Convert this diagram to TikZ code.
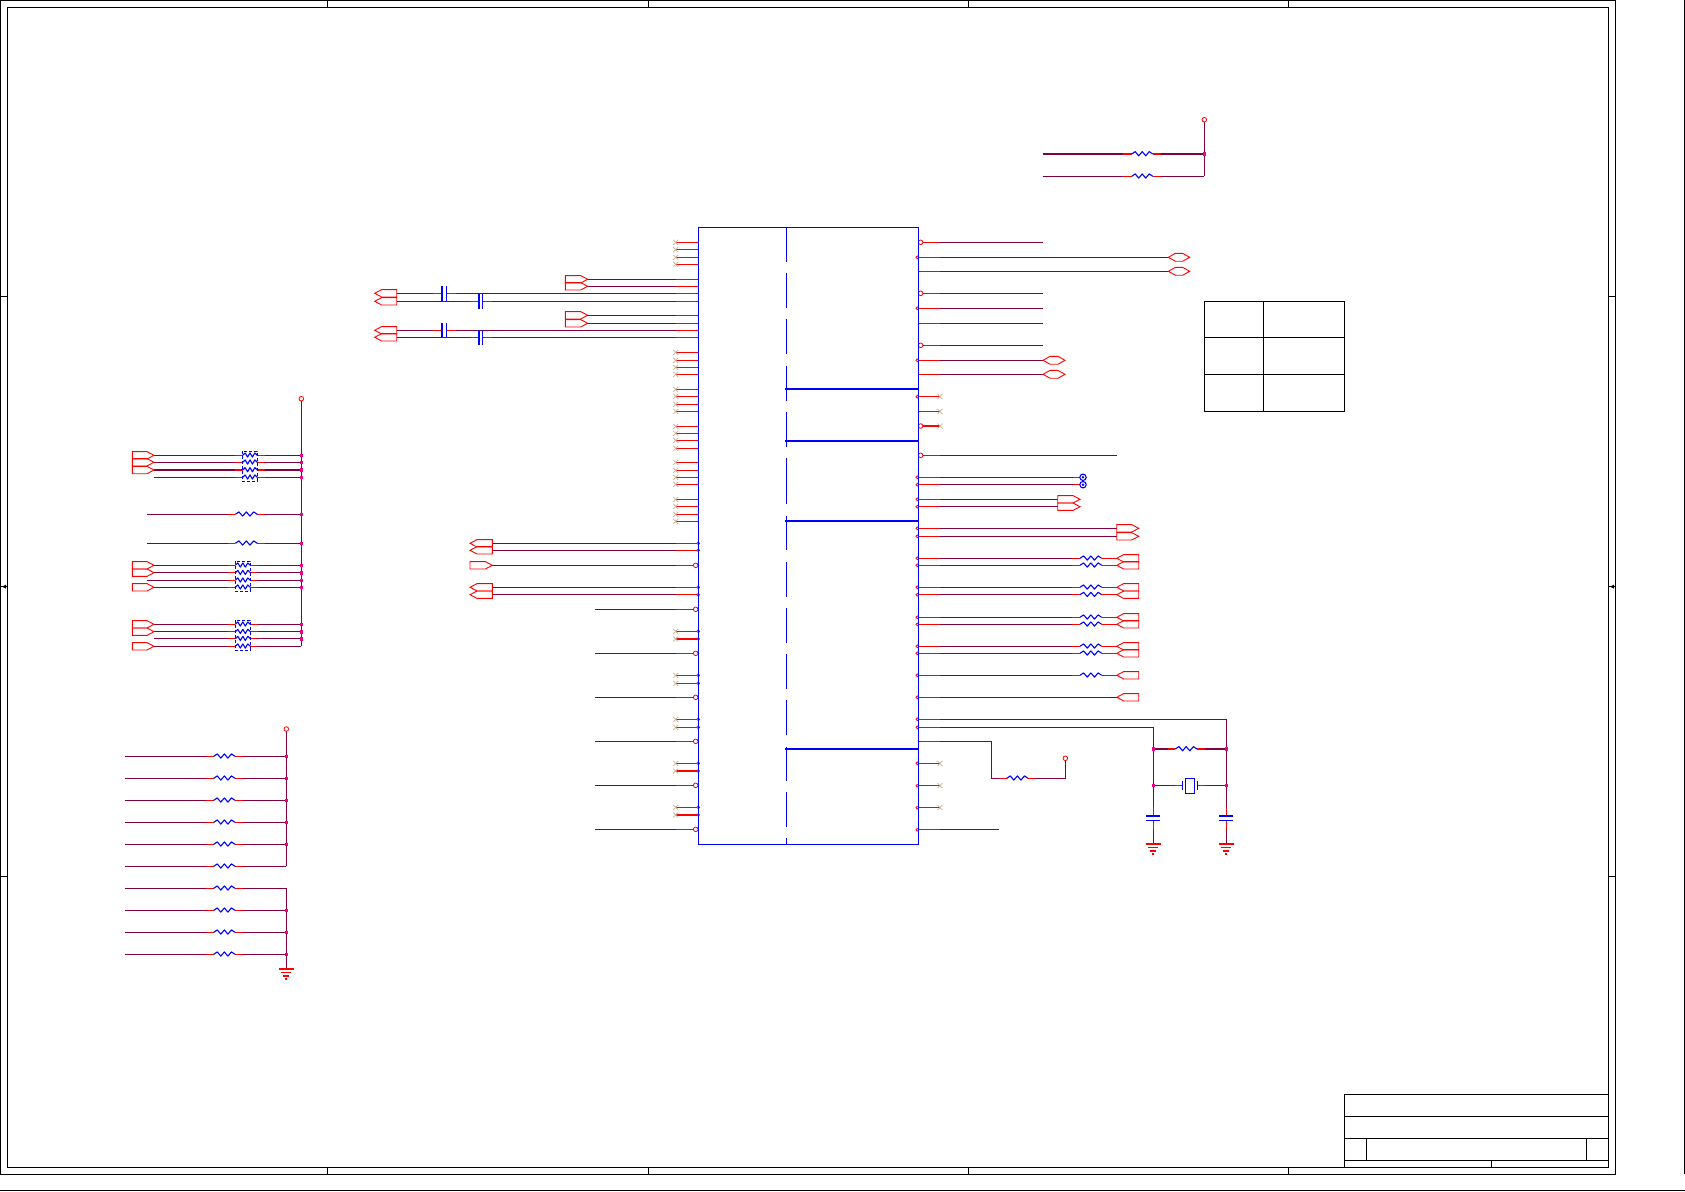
\documentclass[tikz,border=0pt]{standalone}
\definecolor{wirec}{RGB}{128,0,64}
\definecolor{xmark}{RGB}{205,175,145}
\tikzset{
  frameln/.style={draw=black,line width=1pt},
  wireln/.style={draw=wirec,line width=1.1pt},
  pinln/.style={draw=red,line width=1.1pt},
  blueln/.style={draw=blue,line width=1.1pt},
  thickblue/.style={draw=blue,line width=2.2pt},
  portln/.style={draw=red,line width=0.9pt,line join=miter},
  bubble/.style={draw=red,line width=0.8pt,fill=white},
  xln/.style={draw=xmark,line width=0.7pt}
}
\newcommand{\WW}[3]{\draw[wireln] (#1,#3)--(#2,#3);}
\newcommand{\RW}[3]{\draw[pinln] (#1,#3)--(#2,#3);}
\newcommand{\Zig}[3]{\pgfmathsetmacro{\zw}{(#2-#1)/6}
  \draw[draw=blue,line width=1.1pt,line join=round] (#1,#3)--++(\zw,-2.4)--++(\zw,4.2)--++(\zw,-4.2)--++(\zw,4.2)--++(\zw,-4.2)--++(\zw,2.4);}
\newcommand{\XM}[2]{\draw[xln] (#1-2.5,#2-2.5)--(#1+2.5,#2+2.5) (#1-2.5,#2+2.5)--(#1+2.5,#2-2.5);}
\newcommand{\SD}[2]{\draw[red,line width=0.7pt,fill=white] (#1,#2) circle (1.4);}
\newcommand{\BB}[2]{\draw[bubble] (#1,#2) circle (2.3);}
\newcommand{\JJ}[2]{\fill[magenta] (#1-1.8,#2-1.8) rectangle (#1+1.8,#2+1.8);}
\newcommand{\PR}[3]{\draw[portln] (#1,#3-3.7)--(#2-7,#3-3.7)--(#2,#3)--(#2-7,#3+3.7)--(#1,#3+3.7)--cycle;}
\newcommand{\PL}[3]{\draw[portln] (#2,#3-3.7)--(#1+7,#3-3.7)--(#1,#3)--(#1+7,#3+3.7)--(#2,#3+3.7)--cycle;}
\newcommand{\PB}[3]{\draw[portln] (#1,#3)--(#1+7,#3-3.9)--(#2-7,#3-3.9)--(#2,#3)--(#2-7,#3+3.9)--(#1+7,#3+3.9)--cycle;}
\newcommand{\GND}[2]{\draw[pinln] (#1-7.5,#2)--(#1+7.5,#2) (#1-5,#2+3.5)--(#1+5,#2+3.5) (#1-3,#2+7)--(#1+3,#2+7) (#1-1,#2+10)--(#1+1,#2+10);}
\newcommand{\RR}[7]{\WW{#1}{#2}{#7}\WW{#5}{#6}{#7}\RW{#2}{#3}{#7}\RW{#4}{#5}{#7}\Zig{#3}{#4}{#7}}
\begin{document}
\begin{tikzpicture}[x=1pt,y=-1pt]
\useasboundingbox (0,0) rectangle (1685,1191);
% --- drawing frame
\draw[frameln] (0.7,0.7) rectangle (1615.7,1174.3);
\draw[frameln] (7.3,7.3) rectangle (1608.3,1167.3);
\draw[frameln] (1684.3,0)--(1684.3,1174.3);
\draw[draw=black,line width=1.2pt] (0,1190.4)--(1685,1190.4);
\foreach \tx in {327.3,648,968.2,1288.5}{
  \draw[frameln] (\tx,0.7)--(\tx,7.3) (\tx,1167.3)--(\tx,1174.3);}
\foreach \ty in {296.6,586.7,876.9}{
  \draw[frameln] (0.7,\ty)--(7.3,\ty) (1608.3,\ty)--(1615.7,\ty);}
\fill (2,586.7)--(6,584.7)--(6,588.7)--cycle;
\fill (1610,586.7)--(1614,584.7)--(1614,588.7)--cycle;
% --- title block
\draw[frameln] (1344.3,1094.3) rectangle (1608.3,1167.3);
\draw[frameln] (1344.3,1116.3)--(1608.3,1116.3) (1344.3,1138.3)--(1608.3,1138.3) (1344.3,1160.3)--(1608.3,1160.3);
\draw[frameln] (1366.3,1138.3)--(1366.3,1160.3) (1586.7,1138.3)--(1586.7,1160.3) (1491.3,1160.3)--(1491.3,1167.3);
% --- table
\draw[frameln] (1204.3,301.3) rectangle (1344.3,411.3);
\draw[frameln] (1204.3,337.3)--(1344.3,337.3) (1204.3,374.3)--(1344.3,374.3) (1263.3,301.3)--(1263.3,411.3);

% --- left side wired pins of the chip
\foreach \yy in {279.3,286.3,315.3,323.3}{\WW{587.7}{675.7}{\yy}\PR{565.3}{587.7}{\yy}\RW{675.7}{698.3}{\yy}}
\foreach \yy in {293.3,330.3}{\WW{396.7}{433.3}{\yy}\WW{456}{675.7}{\yy}\RW{433.3}{442}{\yy}\RW{446.3}{456}{\yy}\draw[blueln] (442,\yy-7.2)--(442,\yy+7.2) (446.3,\yy-7.2)--(446.3,\yy+7.2);\PL{374.7}{396.7}{\yy}\RW{675.7}{698.3}{\yy}}
\foreach \yy in {301.3,337.3}{\WW{396.7}{470}{\yy}\WW{492.3}{675.7}{\yy}\RW{470}{479}{\yy}\RW{482.7}{492.3}{\yy}\draw[blueln] (479,\yy-7.2)--(479,\yy+7.2) (482.7,\yy-7.2)--(482.7,\yy+7.2);\PL{374.7}{396.7}{\yy}\RW{675.7}{698.3}{\yy}}
% X pins
\foreach \yy in {242.3,249.7,257.3,264.3,352.3,360.3,367.3,374.3,389.3,396.3,404.3,411.3,426.3,433.3,440.3,448.3,462.3,470.3,477.3,484.3,499.3,506.3,514.3,521.3}{\RW{675.7}{698.3}{\yy}\XM{675.7}{\yy}}
\foreach \yy in {631.3,639,675.3,683.3,719.3,727.3,763.3,771,807.3,815}{\RW{675.7}{698.3}{\yy}\XM{675.7}{\yy}\SD{698.3}{\yy}}
% ported
\foreach \yy in {543.3,550.3,587.3,594.7}{\WW{492.3}{675.7}{\yy}\RW{675.7}{698.3}{\yy}\PL{470}{492.3}{\yy}\SD{698.3}{\yy}}
\WW{492.3}{675.7}{565.3}\RW{675.7}{693.7}{565.3}\PR{470}{492.3}{565.3}\BB{695.7}{565.3}
\foreach \yy in {609.3,653.3,697.3,741.3,785.3,829.3}{\WW{594.7}{675.7}{\yy}\RW{675.7}{693.7}{\yy}\BB{695.7}{\yy}}

% --- right side pins
\foreach \yy in {242.3,293.3,345.3}{\RW{918.3}{940}{\yy}\WW{940}{1043}{\yy}\BB{920.6}{\yy}}
\RW{918.3}{940}{455.3}\WW{940}{1116.7}{455.3}\BB{920.6}{455.3}
\RW{918.3}{940}{308.3}\WW{940}{1043}{308.3}\SD{917.3}{308.3}
\RW{918.3}{940}{323.3}\WW{940}{1043}{323.3}
\RW{918.3}{940}{257.3}\WW{940}{1168.3}{257.3}\SD{917.3}{257.3}\PB{1168.3}{1189.7}{257.3}
\RW{918.3}{940}{271.3}\WW{940}{1168.3}{271.3}\PB{1168.3}{1189.7}{271.3}
\RW{918.3}{940}{360.3}\WW{940}{1043}{360.3}\SD{917.3}{360.3}\PB{1043}{1065}{360.3}
\RW{918.3}{940}{374.3}\WW{940}{1043}{374.3}\PB{1043}{1065}{374.3}
% no-connect
\RW{918.3}{940}{396.7}\SD{917.3}{396.7}\XM{940}{396.7}
\RW{918.3}{940}{411.3}\XM{940}{411.3}
\RW{918.3}{940}{426}\BB{920.6}{426}\XM{940}{426}
\foreach \yy in {763.3,785.7,807.7}{\RW{918.3}{940}{\yy}\SD{917.3}{\yy}\XM{940}{\yy}}
% test points
\foreach \yy in {477.3,484.7}{\RW{918.3}{940}{\yy}\WW{940}{1073}{\yy}\RW{1073}{1080}{\yy}\SD{917.3}{\yy}
  \draw[blue,line width=1.1pt,fill=white] (1083,\yy) circle (3.2);\fill[blue] (1083,\yy) circle (1.4);}
% ports right
\foreach \yy in {499.3,506.7}{\RW{918.3}{940}{\yy}\WW{940}{1057.7}{\yy}\SD{917.3}{\yy}\PR{1057.7}{1080}{\yy}}
\foreach \yy in {528.3,536.3}{\RW{918.3}{940}{\yy}\WW{940}{1116.7}{\yy}\SD{917.3}{\yy}\PR{1116.7}{1138.7}{\yy}}
\foreach \yy in {558.3,565.3,587.3,594.7,617.3,624.3,646.3,653.3,675.3}{\RW{918.3}{940}{\yy}\SD{917.3}{\yy}\WW{940}{1072.3}{\yy}\RW{1072.3}{1080}{\yy}\Zig{1080}{1101.7}{\yy}\RW{1101.7}{1116.7}{\yy}\PL{1116.7}{1138.7}{\yy}}
\RW{918.3}{940}{697.3}\SD{917.3}{697.3}\WW{940}{1116.7}{697.3}\PL{1116.7}{1138.7}{697.3}
\RW{918.3}{940}{829.7}\SD{917.3}{829.7}\WW{940}{999}{829.7}
% pull-up at bottom right
\RW{918.3}{940}{741.3}
\draw[wireln] (940,741.3)--(991.3,741.3)--(991.3,778.3)--(999,778.3);
\RW{999}{1006.7}{778.3}\Zig{1006.7}{1028}{778.3}\RW{1028}{1036}{778.3}
\draw[wireln] (1036,778.3)--(1065.3,778.3)--(1065.3,760.3);
\BB{1065.3}{758.3}
% crystal section
\RW{918.3}{940}{719.3}\SD{917.3}{719.3}\RW{918.3}{940}{727.3}\SD{917.3}{727.3}
\draw[wireln] (940,719.3)--(1226.3,719.3)--(1226.3,807.3);
\draw[wireln] (940,727.3)--(1153.3,727.3)--(1153.3,807.3);
\foreach \xx in {1153.3,1226.3}{
  \draw[pinln] (\xx,807.3)--(\xx,816) (\xx,820.3)--(\xx,829.3);
  \draw[wireln] (\xx,829.3)--(\xx,844);
  \draw[draw=blue,line width=1.1pt] (\xx-7,816)--(\xx+7,816) (\xx-7,820.3)--(\xx+7,820.3);
  \GND{\xx}{844}}
\RR{1153.3}{1168.3}{1175.3}{1197}{1205}{1226.3}{749}
\WW{1153.3}{1175}{785.3}\RW{1175}{1182.3}{785.3}\RW{1197.3}{1205}{785.3}\WW{1205}{1226.3}{785.3}
\draw[blueln] (1182.3,781)--(1182.3,790) (1197.3,781)--(1197.3,790);
\draw[blueln] (1185.3,778.3) rectangle (1194.3,793.7);
\foreach \xx in {1153.3,1226.3}{\JJ{\xx}{749}\JJ{\xx}{785.3}}
% top right pull-ups
\draw[wireln] (1204.3,121.7)--(1204.3,176.3);
\foreach \yy in {154,176.3}{\RR{1042.7}{1123.3}{1131.7}{1152.7}{1160.7}{1204.3}{\yy}}
\BB{1204.3}{119.7}\JJ{1204.3}{154}

% --- left group with resistor packs
\draw[wireln] (301.3,400.7)--(301.3,646.3);
\BB{301.3}{398.7}
\foreach \yy in {455.3,462.3,470,477.3}{\RR{154}{235}{242.7}{257.3}{265}{301.3}{\yy}}
\draw[blue,line width=1pt,densely dashed] (242.3,451.3) rectangle (257.3,481.3);
\foreach \yy in {455.3,462.3,470}{\PR{132.3}{154}{\yy}}
\foreach \yy in {514.3,543.3}{\RR{146.7}{228.3}{235.3}{257.3}{265}{301.3}{\yy}}
\foreach \yy/\xs in {565.3/154,572.7/154,580.3/146.7,587.3/154}{\RR{\xs}{228.3}{235.3}{250.3}{258}{301.3}{\yy}}
\draw[blue,line width=1pt,densely dashed] (235.3,561.3) rectangle (250.3,591.3);
\foreach \yy in {565.3,572.7,587.3}{\PR{132.3}{154}{\yy}}
\foreach \yy/\xs in {624.3/154,631.7/154,638.7/154,646.3/154}{\RR{\xs}{228.3}{235.3}{250.3}{258}{301.3}{\yy}}
\draw[blue,line width=1pt,densely dashed] (235.3,620.3) rectangle (250.3,650.3);
\foreach \yy in {624.3,631.7,646.3}{\PR{132.3}{154}{\yy}}
\foreach \yy in {455.3,462.3,470,477.3,514.3,543.3,565.3,572.7,580.3,587.3,624.3,631.7,638.7}{\JJ{301.3}{\yy}}

% --- lower left resistor group
\draw[wireln] (286.3,731)--(286.3,866.3);
\draw[wireln] (286.3,888.3)--(286.3,969);
\BB{286.3}{729}
\foreach \yy in {756.3,778.3,800.3,822.3,844.3,866.3,888.3,910.3,932.3,954.3}{\RR{124.7}{206}{213.7}{235}{242.7}{286.3}{\yy}}
\foreach \yy in {756.3,778.3,800.3,822.3,844.3,910.3,932.3,954.3}{\JJ{286.3}{\yy}}
\GND{286.3}{969}

% --- chip body
\draw[blueln] (698.3,227.3) rectangle (918.3,844.3);
\foreach \ya/\yb in {227.3/262.3,273.3/308.3,319.3/354.3,365.7/400.7,411.7/446.7,457.7/504.3,516/550.3,562/596.7,608/642.7,654.3/689,700.3/735,746.7/780.7,792.3/826.7,838.3/844.3}{
  \draw[blueln] (786.3,\ya)--(786.3,\yb);}
\foreach \yy in {388.7,440.7,520.7,748.7}{\draw[thickblue] (785,\yy)--(918.3,\yy);}
\end{tikzpicture}
\end{document}
